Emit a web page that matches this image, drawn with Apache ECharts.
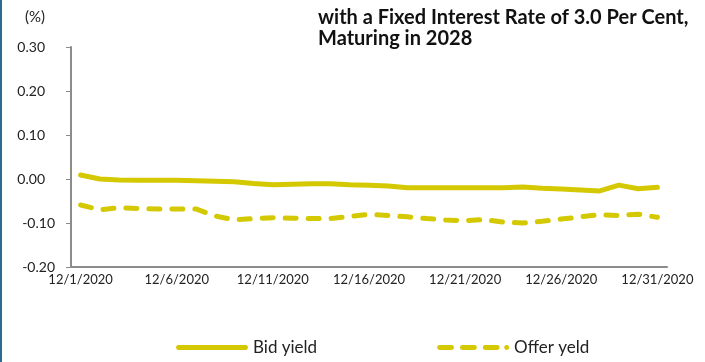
<!DOCTYPE html>
<html>
<head>
<meta charset="utf-8">
<script src="https://cdn.jsdelivr.net/npm/echarts@6/dist/echarts.min.js"></script>
<style>
  html, body { margin: 0; padding: 0; background: #fff; }
  #chart { width: 705px; height: 362px; border-left: 2px solid #2f6b8c; box-sizing: border-box; }
</style>
</head>
<body>
<div id="chart"></div>
<script>
// Daily dates for December 2020
const dates = [];
for (let d = 1; d <= 31; d++) dates.push('12/' + d + '/2020');

// Bid and offer yields (%)
const bidYield = [
  0.009, 0.000, -0.002, -0.003, -0.003, -0.003, -0.004, -0.005, -0.006, -0.010,
  -0.013, -0.012, -0.011, -0.011, -0.013, -0.014, -0.016, -0.020, -0.020, -0.020,
  -0.020, -0.020, -0.020, -0.018, -0.021, -0.023, -0.025, -0.027, -0.014, -0.022,
  -0.019
];
const offerYield = [
  -0.059, -0.070, -0.065, -0.067, -0.068, -0.068, -0.068, -0.084, -0.093, -0.090,
  -0.088, -0.089, -0.090, -0.090, -0.085, -0.080, -0.083, -0.086, -0.090, -0.093,
  -0.095, -0.092, -0.098, -0.100, -0.096, -0.091, -0.086, -0.081, -0.083, -0.080,
  -0.087
];

const yTicks = { min: -0.2, max: 0.3, step: 0.1 };
const titleLines = ['with a Fixed Interest Rate of 3.0 Per Cent,', 'Maturing in 2028'];
const unitLabel = '(%)';
const seriesNames = ['Bid yield', 'Offer yeld'];

const FONT = 'Lato, "Open Sans", sans-serif';
const LINE_COLOR = '#d4c900';
const AXIS_COLOR = '#8c8c8c';

// Legend glyphs: a thick bar, and a dashed bar ending in a dot
const SOLID_ICON = 'path://M2,0 H70 A2.5,2.5 0 0 1 70,5 H2 A2.5,2.5 0 0 1 2,0 Z';
const DASH_ICON = 'path://M2,0 H14 A2.5,2.5 0 0 1 14,5 H2 A2.5,2.5 0 0 1 2,0 Z ' +
  'M25,0 H37 A2.5,2.5 0 0 1 37,5 H25 A2.5,2.5 0 0 1 25,0 Z ' +
  'M48,0 H60 A2.5,2.5 0 0 1 60,5 H48 A2.5,2.5 0 0 1 48,0 Z ' +
  'M69.5,0 A2.5,2.5 0 0 1 69.5,5 A2.5,2.5 0 0 1 69.5,0 Z';

const chart = echarts.init(document.getElementById('chart'), null, { renderer: 'canvas' });

chart.setOption({
  animation: false,
  backgroundColor: '#fff',
  textStyle: { fontFamily: FONT },
  title: [{
    text: titleLines.join('\n'),
    left: 316,
    top: 7,
    padding: 0,
    textStyle: { fontFamily: FONT, fontWeight: 'bold', fontSize: 20, color: '#111', lineHeight: 21 }
  }, {
    text: unitLabel,
    left: 23,
    top: 10,
    padding: 0,
    textStyle: { fontFamily: FONT, fontWeight: 'normal', fontSize: 15, color: '#222' }
  }],
  legend: {
    left: 174,
    top: 339,
    padding: 0,
    itemWidth: 72,
    itemHeight: 5,
    itemGap: 120,
    textStyle: { fontFamily: FONT, fontSize: 17, color: '#222' },
    data: [
      { name: seriesNames[0], icon: SOLID_ICON, itemStyle: { color: LINE_COLOR } },
      { name: seriesNames[1], icon: DASH_ICON, itemStyle: { color: LINE_COLOR } }
    ]
  },
  grid: { left: 69, right: 38, top: 47, bottom: 95, containLabel: false },
  xAxis: {
    type: 'category',
    data: dates,
    boundaryGap: true,
    axisLine: { onZero: false, lineStyle: { color: AXIS_COLOR, width: 2 } },
    axisTick: { interval: 4, length: 5, lineStyle: { color: AXIS_COLOR, width: 1 } },
    axisLabel: { interval: 4, margin: 6, fontFamily: FONT, fontSize: 13, color: '#222' },
    splitLine: { show: false }
  },
  yAxis: {
    type: 'value',
    min: yTicks.min,
    max: yTicks.max,
    interval: yTicks.step,
    axisLine: { show: true, lineStyle: { color: AXIS_COLOR, width: 2 } },
    axisTick: { show: true, length: 5, lineStyle: { color: AXIS_COLOR, width: 1 } },
    axisLabel: {
      margin: 16,
      fontFamily: FONT,
      fontSize: 14,
      color: '#222',
      // positive values keep a trailing gap, as in an accounting-style number format
      formatter: v => v < 0 ? v.toFixed(2) : '{pos|' + v.toFixed(2) + '}',
      rich: { pos: { fontFamily: FONT, fontSize: 14, color: '#222', padding: [0, 10, 0, 0] } }
    },
    splitLine: { show: false }
  },
  series: [{
    name: seriesNames[0],
    type: 'line',
    data: bidYield,
    symbol: 'none',
    lineStyle: { color: LINE_COLOR, width: 5, cap: 'round', join: 'round' },
    itemStyle: { color: LINE_COLOR }
  }, {
    name: seriesNames[1],
    type: 'line',
    data: offerYield,
    symbol: 'none',
    lineStyle: { color: LINE_COLOR, width: 5, type: [11, 12], cap: 'round', join: 'round' },
    itemStyle: { color: LINE_COLOR }
  }]
});
</script>
</body>
</html>
